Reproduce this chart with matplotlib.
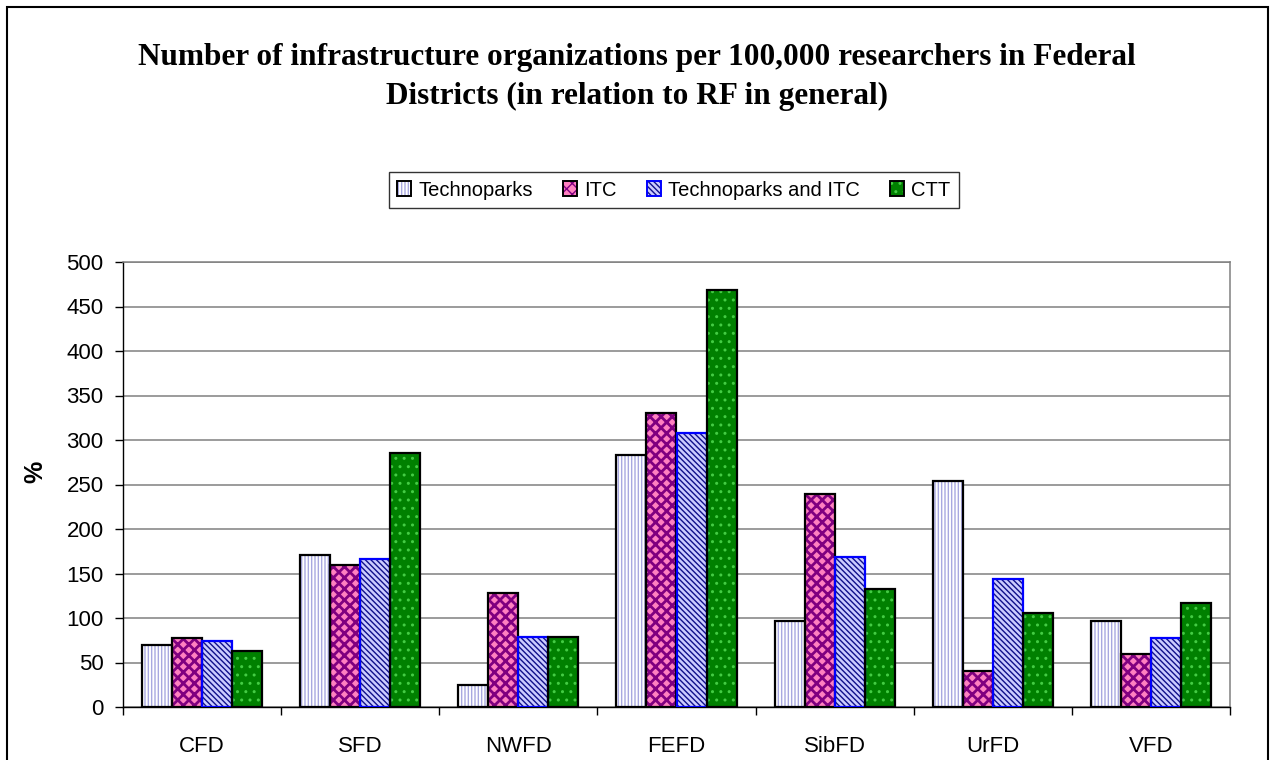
import numpy as np
import matplotlib
matplotlib.use("Agg")
import matplotlib.pyplot as plt
from matplotlib.patches import Rectangle

districts = ["CFD", "SFD", "NWFD", "FEFD", "SibFD", "UrFD", "VFD"]
series = ["Technoparks", "ITC", "Technoparks and ITC", "CTT"]
technoparks = [70, 171, 25, 283, 97, 254, 97]
itc = [78, 160, 128, 330, 239, 41, 59]
tech_itc = [74, 166, 79, 308, 169, 144, 77]
ctt = [63, 285, 79, 469, 133, 106, 117]

values = [technoparks, itc, tech_itc, ctt]
# face colour, hatch colour, hatch, outline colour, hatch line width
styles = [
    ("#ffffff", "#a8a8e0", "|||||", "black", 1.0),
    ("#ff80c0", "#800080", "xxx", "black", 2.0),
    ("#ccccff", "#10108a", "\\\\\\\\\\\\", "#0000ff", 1.0),
    ("#008000", "#44cc44", "..", "black", 1.0),
]

plt.rcParams["font.family"] = ["Liberation Sans", "DejaVu Sans"]

fig = plt.figure(figsize=(12.74, 7.60), dpi=100)
ax = fig.add_axes([123 / 1274, 1 - 707 / 760, 1107 / 1274, 445 / 760])

x = np.arange(len(districts))
w = 0.19
handles = []
for i, (vals, (fc, hc, hatch, ec, hlw)) in enumerate(zip(values, styles)):
    plt.rcParams["hatch.linewidth"] = hlw
    pos = x + (i - 1.5) * w
    ax.bar(pos, vals, w, color=fc, edgecolor=hc, hatch=hatch, linewidth=0, zorder=2)
    ax.bar(pos, vals, w, fill=False, edgecolor=ec, linewidth=1.6, zorder=3)
    h1 = plt.Rectangle((0, 0), 1, 1, facecolor=fc, edgecolor=hc, hatch=hatch, linewidth=0)
    h2 = plt.Rectangle((0, 0), 1, 1, fill=False, edgecolor=ec, linewidth=1.4)
    handles.append((h1, h2))
plt.rcParams["hatch.linewidth"] = 1.0

ax.set_xlim(-0.5, len(districts) - 0.5)
ax.set_ylim(0, 500)
ax.set_yticks(np.arange(0, 501, 50))
ax.yaxis.grid(True, color="#808080", linewidth=1.1, zorder=0)
ax.set_axisbelow(True)
ax.tick_params(axis="y", labelsize=16, length=6, width=1, pad=8)

ax.set_xticks(np.arange(-0.5, len(districts)), [""] * (len(districts) + 1))
ax.set_xticks(x, districts, minor=True)
ax.tick_params(axis="x", which="major", length=6, width=1)
ax.tick_params(axis="x", which="minor", length=0, labelsize=16, pad=21)

for s in ["top", "right"]:
    ax.spines[s].set_color("#808080")
    ax.spines[s].set_linewidth(1.1)
for s in ["left", "bottom"]:
    ax.spines[s].set_color("black")
    ax.spines[s].set_linewidth(1.0)

fig.text(35 / 1274, 1 - 472 / 760, "%", rotation=90, fontsize=18, fontweight="bold",
         ha="center", va="center")

fig.text(637 / 1274, 1 - 77 / 760,
         "Number of infrastructure organizations per 100,000 researchers in Federal\n"
         "Districts (in relation to RF in general)",
         family=["Liberation Serif", "DejaVu Serif"], fontsize=22.5, fontweight="bold",
         ha="center", va="center", linespacing=1.45)

leg = fig.legend(handles, series, loc="center", ncol=4,
                 bbox_to_anchor=(674 / 1274, 1 - 190 / 760), fontsize=14.5,
                 handlelength=0.7, handleheight=0.7, handletextpad=0.35,
                 columnspacing=1.5, fancybox=False, borderpad=0.4)
leg.get_frame().set_edgecolor("black")
leg.get_frame().set_linewidth(1.0)

# outer chart border
fig.patches.append(Rectangle((7 / 1274, -0.05), 1261 / 1274, 1.05 - 7 / 760,
                             transform=fig.transFigure, fill=False,
                             edgecolor="black", linewidth=1.5))

fig.savefig("out.png", dpi=100)
